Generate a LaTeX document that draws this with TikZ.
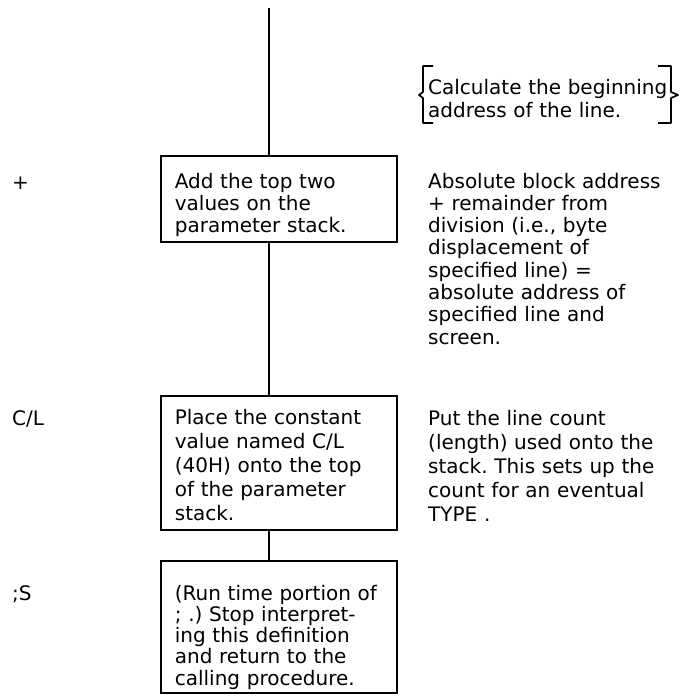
\documentclass[tikz,border=0pt]{standalone}
\usepackage{fontspec}
\setmainfont{DejaVu Sans}
\usetikzlibrary{calc}
\frenchspacing
\newcommand{\txt}[1]{\fontsize{20}{#1}\selectfont}
\tikzset{
  wordbox/.style={draw=black,line width=0.6mm,rectangle,anchor=base west,text width=208pt,inner xsep=14pt,inner ysep=0pt,align=left},
  flow/.style={draw=black,line width=0.6mm},
  note/.style={anchor=base west,inner sep=0pt,text width=250pt,align=left},
  wordname/.style={anchor=base west,inner sep=0pt,font=\txt{22}},
  bracket/.style={draw=black,line width=0.6mm,line join=round},
}

\begin{document}
\begin{tikzpicture}[x=1pt,y=-1pt]
  \useasboundingbox (0,0) rectangle (680,696);
  \coordinate (spine) at (269, 8);

  % words of the definition
  \node[wordname] (plus_word) at (12, 189) {+};
  \node[wordname] (cl_word) at (12, 425) {C/L};
  \node[wordname] (semis_word) at (12, 600) {;S};

  % what each word does (text height/depth give the box edges)
  \node[wordbox,font=\txt{22},text height=32pt,text depth=54pt] (add_box) at (160, 188) {Add the top two\\values on the\\parameter stack.};
  \node[wordbox,font=\txt{24},text height=28pt,text depth=106pt] (cl_box) at (160, 424) {Place the constant\\value named C/L\\(40H) onto the top\\of the parameter\\stack.};
  \node[wordbox,font=\txt{21.3},text height=39pt,text depth=93pt] (semis_box) at (160, 600) {(Run time portion of\\; .) Stop interpret-\\ing this definition\\and return to the\\calling procedure.};

  \draw[flow] (spine) -- (add_box.north -| spine);
  \foreach \from/\to in {add_box/cl_box, cl_box/semis_box} {
    \draw[flow] (\from.south -| spine) -- (\to.north -| spine);
  }

  % comments
  \node[note,font=\txt{23}] (calc_note) at (428, 94) {Calculate the beginning\\address of the line.};
  \node[note,font=\txt{22.3}] (add_note) at (428, 188) {Absolute block address\\+ remainder from\\division (i.e., byte\\displacement of\\specified line) =\\absolute address of\\specified line and\\screen.};
  \node[note,font=\txt{24}] (cl_note) at (428, 425) {Put the line count\\(length) used onto the\\stack. This sets up the\\count for an eventual\\TYPE .};

  % braces round the first comment
  \coordinate (brace_w) at (419, 95);
  \coordinate (brace_e) at (678, 95);
  \draw[bracket] ($(brace_w)+(14,-29)$) -- ($(brace_w)+(4,-29)$) -- ($(brace_w)+(4,-3)$) -- (brace_w)
    -- ($(brace_w)+(4,3)$) -- ($(brace_w)+(4,28)$) -- ($(brace_w)+(14,28)$);
  \draw[bracket] ($(brace_e)+(-20,-29)$) -- ($(brace_e)+(-7,-29)$) -- ($(brace_e)+(-7,-3)$) -- (brace_e)
    -- ($(brace_e)+(-7,3)$) -- ($(brace_e)+(-7,28)$) -- ($(brace_e)+(-20,28)$);
\end{tikzpicture}
\end{document}
